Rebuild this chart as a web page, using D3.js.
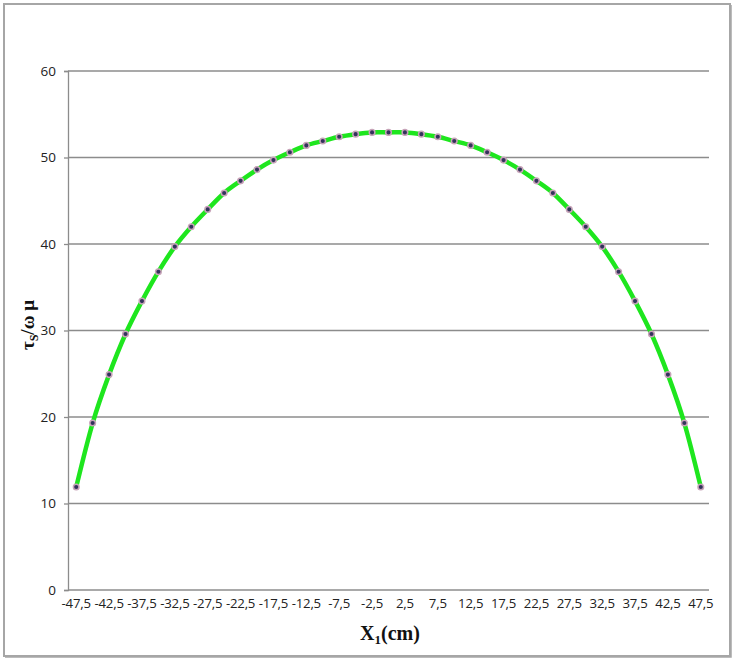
<!DOCTYPE html>
<html><head><meta charset="utf-8">
<script src="https://cdn.jsdelivr.net/npm/d3@7"></script>
<style>html,body{margin:0;padding:0;background:#fff;}</style>
</head><body>
<svg id="chart" width="738" height="662"></svg>
<script>
const xValues = [-47.5,-45,-42.5,-40,-37.5,-35,-32.5,-30,-27.5,-25,-22.5,-20,-17.5,-15,-12.5,-10,-7.5,-5,-2.5,0,
  2.5,5,7.5,10,12.5,15,17.5,20,22.5,25,27.5,30,32.5,35,37.5,40,42.5,45,47.5];
const tauValues = [11.9,19.3,24.9,29.6,33.4,36.8,39.7,42.0,44.0,45.9,47.3,48.6,49.7,50.6,51.4,51.9,52.4,52.7,52.9,52.9,
  52.9,52.7,52.4,51.9,51.4,50.6,49.7,48.6,47.3,45.9,44.0,42.0,39.7,36.8,33.4,29.6,24.9,19.3,11.9];
const xTickLabels = ["-47,5","-42,5","-37,5","-32,5","-27,5","-22,5","-17,5","-12,5","-7,5","-2,5",
  "2,5","7,5","12,5","17,5","22,5","27,5","32,5","37,5","42,5","47,5"];
const yTicks = [0,10,20,30,40,50,60];

const svg = d3.select("#chart");
const m = {left:68, right:709, top:71, bottom:590};

// outer frame
svg.append("rect").attr("x",4).attr("y",4).attr("width",726).attr("height",652)
  .attr("fill","none").attr("stroke","#a6a6a6").attr("stroke-width",2);
svg.append("path").attr("d","M731,5V657H5").attr("fill","none").attr("stroke","#a6a6a6").attr("stroke-width",1.5);

const x = d3.scaleBand().domain(xValues.map(String)).range([m.left, m.right]);
const y = d3.scaleLinear().domain([0,60]).range([m.bottom, m.top]);
const cx = v => x(String(v)) + x.bandwidth()/2;

// gridlines
svg.append("g").selectAll("line").data(yTicks.filter(t=>t>0)).join("line")
  .attr("x1",m.left).attr("x2",m.right).attr("y1",d=>y(d)).attr("y2",d=>y(d))
  .attr("stroke","#8c8c8c").attr("stroke-width",1.3);

// y axis
const yAxis = svg.append("g").attr("transform",`translate(${m.left},0)`)
  .call(d3.axisLeft(y).tickValues(yTicks).tickSize(4).tickPadding(8));
yAxis.select(".domain").attr("stroke","#8c8c8c").attr("stroke-width",1.3);
yAxis.selectAll(".tick line").attr("stroke","#8c8c8c").attr("stroke-width",1.3);
yAxis.selectAll("text").attr("font-family","Open Sans, Liberation Sans, sans-serif").attr("font-size",13.5).attr("fill","#222");

// x axis
const labelSet = new Set(xTickLabels);
const xAxis = svg.append("g").attr("transform",`translate(0,${m.bottom})`)
  .call(d3.axisBottom(x).tickSize(0).tickPadding(9)
    .tickValues(xValues.filter(v => labelSet.has(String(v).replace(".",","))).map(String))
    .tickFormat(d => d.replace(".",",")));
xAxis.select(".domain").attr("stroke","#8c8c8c").attr("stroke-width",1.3).attr("d",`M${m.left},0H${m.right}`);
xAxis.selectAll("text").attr("font-family","Open Sans, Liberation Sans, sans-serif").attr("font-size",13.2).attr("letter-spacing",-0.2).attr("fill","#222");

// line
const line = d3.line().x((d,i)=>cx(xValues[i])).y(d=>y(d)).curve(d3.curveCatmullRom.alpha(0));
svg.append("path").datum(tauValues).attr("d",line).attr("fill","none")
  .attr("stroke","#1ee61e").attr("stroke-width",4.5);

// markers
svg.append("g").selectAll("circle").data(tauValues).join("circle")
  .attr("cx",(d,i)=>cx(xValues[i])).attr("cy",d=>y(d)).attr("r",2.8)
  .attr("fill","#33335c").attr("stroke","#c7a3b8").attr("stroke-width",1.5);

// axis titles
const xt = svg.append("text").attr("x",390).attr("y",640).attr("text-anchor","middle")
  .attr("font-family","Liberation Serif, Times New Roman, serif").attr("font-weight","bold").attr("font-size",20).attr("fill","#111");
xt.append("tspan").text("X");
xt.append("tspan").attr("font-size",13).attr("dy",4).text("1");
xt.append("tspan").attr("dy",-4).text("(cm)");

const yt = svg.append("text").attr("transform","translate(34,325) rotate(-90)").attr("text-anchor","middle")
  .attr("font-family","Liberation Serif, Times New Roman, serif").attr("font-weight","bold").attr("font-size",19).attr("fill","#111");
yt.append("tspan").text("τ");
yt.append("tspan").attr("font-size",12).attr("dy",4).text("S");
yt.append("tspan").attr("dy",-4).text("/ω μ");
</script>
</body></html>
